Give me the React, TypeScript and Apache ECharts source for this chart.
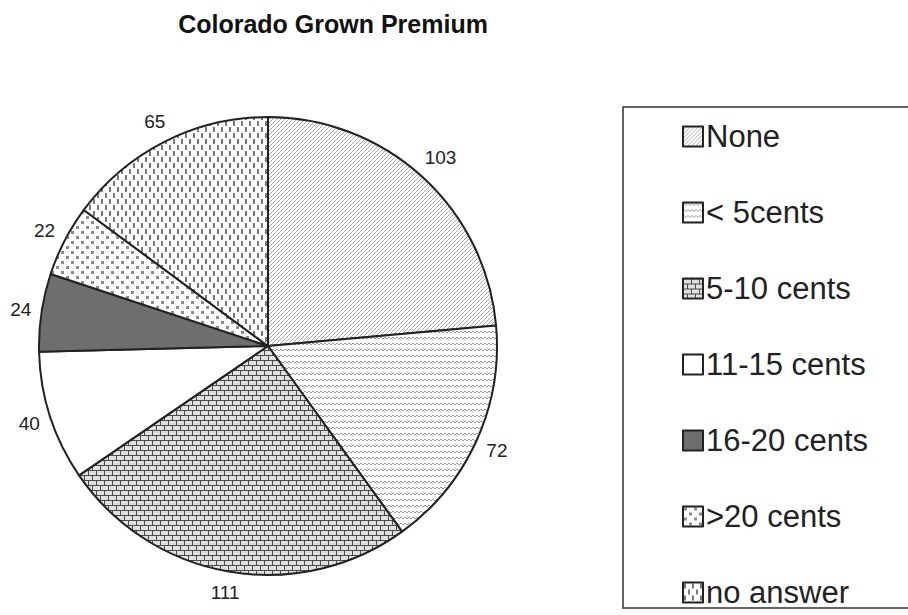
import React, { useEffect, useRef } from "react";
import * as echarts from "echarts";

const categories = ["None", "< 5cents", "5-10 cents", "11-15 cents", "16-20 cents", ">20 cents", "no answer"];
const values = [103, 72, 111, 40, 24, 22, 65];
const titleText = "Colorado Grown Premium";

const PIE_CX = 268;
const PIE_CY = 346;
const PIE_R = 229;
const LABEL_GAP = 9;

type Draw = (ctx: CanvasRenderingContext2D) => void;
function makePattern(w: number, h: number, bg: string, draw: Draw) {
  const c = document.createElement("canvas");
  c.width = w;
  c.height = h;
  const ctx = c.getContext("2d")!;
  ctx.fillStyle = bg;
  ctx.fillRect(0, 0, w, h);
  draw(ctx);
  return { image: c, repeat: "repeat" } as any;
}

function buildFills() {
  const none = makePattern(4, 4, "#ffffff", (ctx) => {
    ctx.fillStyle = "#a8a8a8";
    for (let i = 0; i < 4; i++) ctx.fillRect(i, 3 - i, 1, 1);
  });
  const lt5 = makePattern(4, 6, "#ffffff", (ctx) => {
    ctx.fillStyle = "#9a9a9a";
    ctx.fillRect(0, 1, 2, 1);
    ctx.fillRect(2, 2, 2, 1);
  });
  const brick = makePattern(8, 10, "#e0e0e0", (ctx) => {
    ctx.fillStyle = "#4a4a4a";
    ctx.fillRect(0, 0, 8, 1);
    ctx.fillRect(0, 5, 8, 1);
    ctx.fillRect(0, 0, 1, 5);
    ctx.fillRect(4, 5, 1, 5);
  });
  const dots = makePattern(10, 10, "#ffffff", (ctx) => {
    ctx.fillStyle = "#8c8c8c";
    ctx.fillRect(1, 1, 3, 3);
    ctx.fillRect(6, 6, 3, 3);
  });
  const dashes = makePattern(8, 12, "#ffffff", (ctx) => {
    ctx.fillStyle = "#7a7a7a";
    ctx.fillRect(1, 1, 2, 5);
    ctx.fillRect(5, 7, 2, 5);
  });
  return [none, lt5, brick, "#ffffff", "#6e6e6e", dots, dashes];
}

export default function App() {
  const ref = useRef<HTMLDivElement>(null);
  useEffect(() => {
    if (!ref.current) return;
    const chart = echarts.init(ref.current, undefined, { renderer: "svg" });
    const fills = buildFills();
    const total = values.reduce((a, b) => a + b, 0);
    const data = categories.map((name, i) => ({
      name,
      value: values[i],
      itemStyle: { color: fills[i] },
    }));
    chart.setOption({
      animation: false,
      backgroundColor: "#ffffff",
      graphic: [
        {
          type: "text",
          x: 333,
          y: 24,
          style: {
            text: titleText,
            font: "bold 25px 'Liberation Sans', Arial, sans-serif",
            fill: "#111",
            textAlign: "center",
            textVerticalAlign: "middle",
          },
        },
        {
          type: "rect",
          shape: { x: 623, y: 107, width: 320, height: 501 },
          style: { fill: "none", stroke: "#333", lineWidth: 1.5 },
        },
      ],
      legend: {
        orient: "vertical",
        left: 677,
        top: 116,
        itemGap: 45,
        itemWidth: 20,
        itemHeight: 20,
        icon: "rect",
        selectedMode: false,
        textStyle: {
          fontSize: 31,
          lineHeight: 30,
          color: "#222",
          fontFamily: "'Liberation Sans', Arial, sans-serif",
          padding: [0, 0, 0, -2],
        },
        data: categories,
      },
      series: [
        {
          type: "pie",
          center: [PIE_CX, PIE_CY],
          radius: PIE_R,
          startAngle: 90,
          clockwise: true,
          silent: true,
          itemStyle: { borderColor: "#222", borderWidth: 2 },
          label: {
            show: true,
            position: "outside",
            formatter: "{c}",
            fontSize: 19,
            color: "#222",
            overflow: "none",
            fontFamily: "'Liberation Sans', Arial, sans-serif",
          },
          labelLine: { show: false, length: 10, length2: 0 },
          labelLayout: (p: any) => {
            const i = p.dataIndex;
            let cum = 0;
            for (let k = 0; k < i; k++) cum += values[k];
            const mid = ((cum + values[i] / 2) / total) * Math.PI * 2;
            const dx = Math.sin(mid);
            const dy = -Math.cos(mid);
            const w = p.labelRect.width;
            const h = p.labelRect.height;
            const d = PIE_R + LABEL_GAP + (Math.abs(dx) * w) / 2 + (Math.abs(dy) * h) / 2;
            return { x: PIE_CX + dx * d, y: PIE_CY + dy * d, align: "center", verticalAlign: "middle" };
          },
          emphasis: { disabled: true },
          data,
        },
      ],
    });
    return () => chart.dispose();
  }, []);
  return <div ref={ref} style={{ position: "fixed", left: 0, top: 0, width: 908, height: 615 }} />;
}
